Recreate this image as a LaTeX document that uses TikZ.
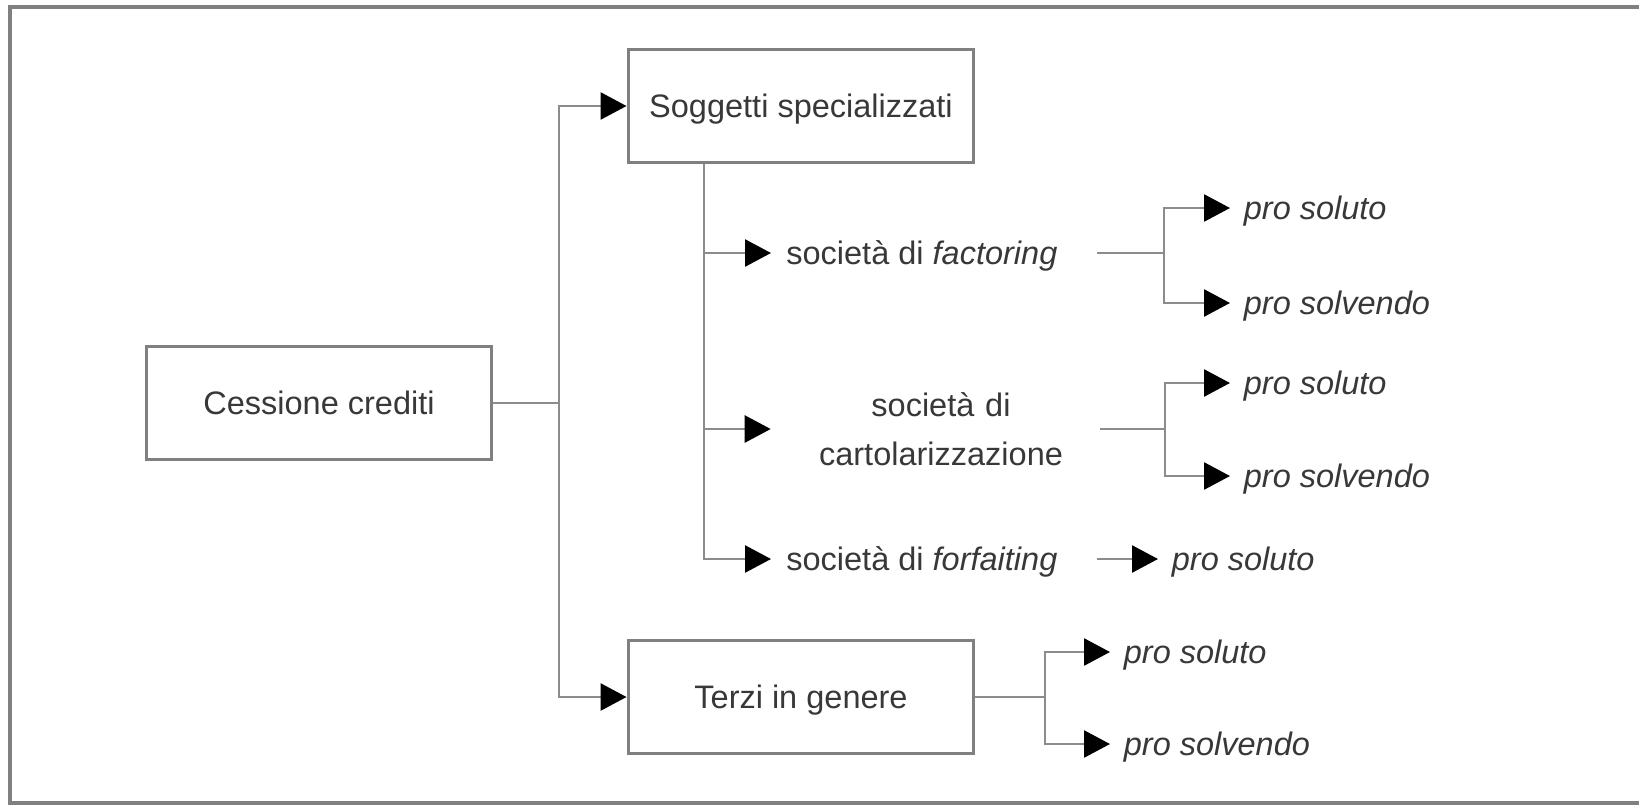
\documentclass[tikz,border=0pt]{standalone}
\usepackage{fontspec}
\setmainfont{Liberation Sans}
\usetikzlibrary{arrows.meta}
\definecolor{lineGray}{gray}{0.55}
\definecolor{boxGray}{gray}{0.5}
\definecolor{textGray}{gray}{0.22}

\begin{document}
\begin{tikzpicture}[%%
  x=0.02cm,y=-0.02cm,%%
  lineStyle/.style={-,draw=lineGray,line width=1.5pt},%%
  arrowStyle/.style={lineStyle,-{Triangle[black,length=0.52cm,width=0.54cm]}},%%
  frameStyle/.style={-,draw=boxGray,line width=2pt},%%
  boxStyle/.style={draw=boxGray,line width=1.7pt,minimum width=6.92cm,%%
    minimum height=2.26cm,inner sep=0pt,text=textGray,text depth=0pt,%%
    font=\fontsize{18.5}{28}\selectfont},%%
  labelStyle/.style={anchor=west,inner xsep=0.3cm,inner ysep=0pt,%%
    text=textGray,text depth=0pt,font=\fontsize{18.5}{28}\selectfont},%%
  choiceStyle/.style={labelStyle,inner xsep=0.27cm,%%
    font=\fontsize{18.5}{28}\selectfont\itshape}%%
]
%%
%%
\pgfmathsetmacro{\trunkX}{559}
\pgfmathsetmacro{\subX}{704}
\pgfmathsetmacro{\tipX}{771}
\pgfmathsetmacro{\outX}{1097}
\pgfmathsetmacro{\forkX}{1164}
\pgfmathsetmacro{\choiceX}{1230}
%%
\useasboundingbox (0,0) rectangle (1639,806);
%% Outer frame, open on the right.
\draw[frameStyle] (1650,7) -- (10,7) -- (10,803) -- (1650,803);
%%
%% The three boxes.
\node[boxStyle] (cess) at (319,403) {Cessione crediti};
\node[boxStyle] (sog) at (801,106) {Soggetti specializzati};
\node[boxStyle] (terzi) at (801,697) {Terzi in genere};
%%
%% Kinds of specialised subjects.
\node[labelStyle] (fact) at (\tipX,253) {società di \textit{factoring}};
\node[labelStyle,anchor=center,align=center,text width=6.8cm,inner xsep=0pt,
  text depth={}] (cart) at (941,429) {società di\\cartolarizzazione};
\node[labelStyle] (forf) at (\tipX,559) {società di \textit{forfaiting}};
%%
%% The choices.
\node[choiceStyle] (factSol) at (\choiceX,208) {pro soluto};
\node[choiceStyle] (factSolv) at (\choiceX,303) {pro solvendo};
\node[choiceStyle] (cartSol) at (\choiceX,383) {pro soluto};
\node[choiceStyle] (cartSolv) at (\choiceX,476) {pro solvendo};
\node[choiceStyle] (forfSol) at (1158,559) {pro soluto};
\node[choiceStyle] (terziSol) at (1110,652) {pro soluto};
\node[choiceStyle] (terziSolv) at (1110,744) {pro solvendo};
%%
\coordinate (trunk) at (\trunkX,403);
\coordinate (subTop) at (\subX,164);
\coordinate (factOut) at (\outX,253);
\coordinate (factFork) at (\forkX,253);
\coordinate (cartOut) at (\outX+3,429);
\coordinate (cartFork) at (\forkX+1,429);
\coordinate (forfOut) at (\outX,559);
\coordinate (terziFork) at (1045,697);
%%
%% Main split.
\draw[lineStyle] (cess.east) -- (trunk);
\draw[arrowStyle] (trunk) |- (sog.west);
\draw[arrowStyle] (trunk) |- (terzi.west);
%% Specialised subjects.
\draw[arrowStyle] (subTop) |- (fact.west);
\draw[arrowStyle] (subTop) |- (cart.west);
\draw[arrowStyle] (subTop) |- (forf.west);
%% Factoring.
\draw[lineStyle] (factOut) -- (factFork);
\draw[arrowStyle] (factFork) |- (factSol.west);
\draw[arrowStyle] (factFork) |- (factSolv.west);
%% Cartolarizzazione.
\draw[lineStyle] (cartOut) -- (cartFork);
\draw[arrowStyle] (cartFork) |- (cartSol.west);
\draw[arrowStyle] (cartFork) |- (cartSolv.west);
%% Forfaiting.
\draw[arrowStyle] (forfOut) -- (forfSol.west);
%% Third parties.
\draw[lineStyle] (terzi.east) -- (terziFork);
\draw[arrowStyle] (terziFork) |- (terziSol.west);
\draw[arrowStyle] (terziFork) |- (terziSolv.west);
\end{tikzpicture}
\end{document}
